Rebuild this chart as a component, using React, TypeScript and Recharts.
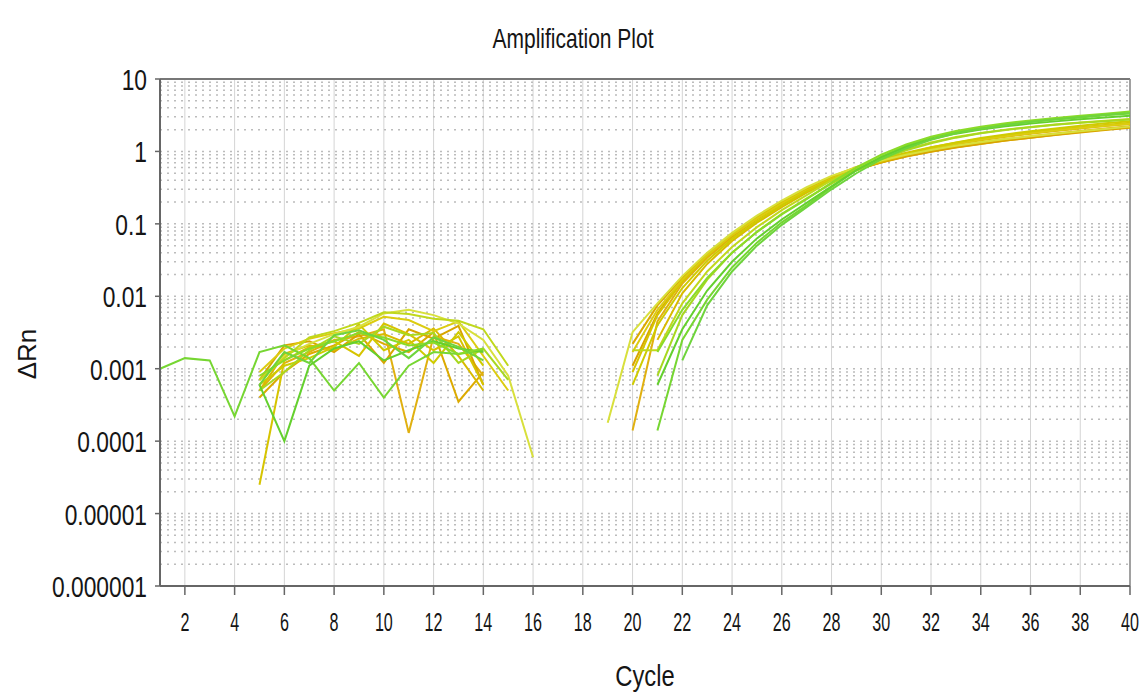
import React from 'react';
import { LineChart, Line, XAxis, YAxis, CartesianGrid, ReferenceLine } from 'recharts';

const _ = null;

// cycles 1..40
const cycles = Array.from({ length: 40 }, (_v, i) => i + 1);
const xTicks = [2, 4, 6, 8, 10, 12, 14, 16, 18, 20, 22, 24, 26, 28, 30, 32, 34, 36, 38, 40];
const yTicks = [0.000001, 0.00001, 0.0001, 0.001, 0.01, 0.1, 1, 10];
const yTickLabels = ['0.000001', '0.00001', '0.0001', '0.001', '0.01', '0.1', '1', '10'];

// ΔRn per well, one entry per cycle (null = not plotted, value <= 0)
const wellLY = [
  _, _, _, _, 0.0007, 0.0015, 0.0022, 0.003, 0.0038, 0.0058, 0.0065, 0.0055, 0.0042, 0.0025, 0.0008, 0.00006,
  _, _, 0.00018,
  0.0032, 0.008, 0.019, 0.04, 0.075, 0.13, 0.21, 0.32, 0.46, 0.6, 0.75, 0.9, 1.05, 1.2, 1.34, 1.48, 1.62, 1.76, 1.9, 2.04, 2.2,
];
const wellO1 = [
  _, _, _, _, 0.0004, 0.0009, 0.0016, 0.0021, 0.0032, 0.0022, 0.0017, 0.0032, 0.00035, 0.0009, _, _,
  _, _, _,
  0.0022, 0.0075, 0.018, 0.038, 0.072, 0.125, 0.2, 0.3, 0.43, 0.57, 0.71, 0.86, 1.0, 1.14, 1.28, 1.42, 1.55, 1.69, 1.83, 1.97, 2.12,
];
const wellO2 = [
  _, _, _, _, 0.0005, 0.0012, 0.0017, 0.0025, 0.0028, 0.0035, 0.00013, 0.0028, 0.0022, 0.0008, _, _,
  _, _, _,
  0.00014, 0.0045, 0.015, 0.034, 0.066, 0.115, 0.19, 0.29, 0.42, 0.56, 0.71, 0.87, 1.03, 1.18, 1.33, 1.48, 1.62, 1.77, 1.92, 2.07, 2.22,
];
const wellO3 = [
  _, _, _, _, 0.0007, 0.0021, 0.0024, 0.0017, 0.003, 0.0012, 0.0035, 0.0026, 0.0039, 0.0006, _, _,
  _, _, _,
  0.0011, 0.0058, 0.017, 0.037, 0.069, 0.118, 0.19, 0.29, 0.42, 0.56, 0.7, 0.85, 0.99, 1.13, 1.27, 1.41, 1.55, 1.7, 1.85, 2.0, 2.15,
];
const wellG1 = [
  _, _, _, _, 0.0005, 0.0016, 0.0021, 0.0018, 0.0026, 0.003, 0.0022, 0.0036, 0.0015, 0.0005, _, _,
  _, _, _,
  _, 0.0025, 0.011, 0.028, 0.058, 0.104, 0.17, 0.27, 0.4, 0.55, 0.72, 0.9, 1.08, 1.26, 1.43, 1.6, 1.76, 1.92, 2.08, 2.24, 2.4,
];
const wellY1 = [
  _, _, _, _, 0.000025, 0.0013, 0.002, 0.0024, 0.0015, 0.0042, 0.003, 0.0018, 0.0028, 0.0006, _, _,
  _, _, _,
  0.0009, 0.0055, 0.016, 0.036, 0.07, 0.12, 0.2, 0.31, 0.45, 0.61, 0.78, 0.96, 1.14, 1.32, 1.5, 1.67, 1.84, 2.0, 2.16, 2.32, 2.48,
];
const wellY2 = [
  _, _, _, _, 0.0009, 0.0019, 0.0026, 0.0031, 0.0036, 0.0052, 0.0047, 0.0033, 0.0045, 0.0015, 0.0005, _,
  _, _, _,
  0.0017, 0.0065, 0.017, 0.037, 0.07, 0.118, 0.19, 0.29, 0.42, 0.57, 0.74, 0.92, 1.1, 1.28, 1.45, 1.62, 1.78, 1.94, 2.1, 2.26, 2.42,
];
const wellY3 = [
  _, _, _, _, 0.0006, 0.0011, 0.0014, 0.002, 0.0041, 0.0018, 0.0025, 0.0012, 0.0032, 0.0011, _, _,
  _, _, _,
  0.0006, 0.004, 0.013, 0.031, 0.062, 0.108, 0.18, 0.28, 0.41, 0.56, 0.74, 0.93, 1.13, 1.33, 1.53, 1.72, 1.9, 2.08, 2.26, 2.44, 2.62,
];
const wellYG1 = [
  _, _, _, _, 0.0007, 0.0014, 0.0027, 0.0033, 0.0043, 0.006, 0.0057, 0.0049, 0.0046, 0.0035, 0.0011, _,
  _, _, _,
  0.0018, 0.0018, 0.008, 0.022, 0.048, 0.09, 0.155, 0.25, 0.4, 0.58, 0.8, 1.06, 1.33, 1.58, 1.8, 2.0, 2.18, 2.35, 2.5, 2.65, 2.8,
];
const wellYG2 = [
  _, _, _, _, 0.0005, 0.0009, 0.0018, 0.0028, 0.0022, 0.0038, 0.0029, 0.0031, 0.0012, 0.0019, 0.0007, _,
  _, _, _,
  _, 0.0008, 0.0055, 0.017, 0.04, 0.078, 0.138, 0.225, 0.36, 0.55, 0.78, 1.04, 1.3, 1.55, 1.78, 1.98, 2.16, 2.33, 2.48, 2.62, 2.75,
];
const wellGr1 = [
  0.001, 0.0014, 0.0013, 0.00022, 0.0017, 0.0021, 0.0014, 0.0005, 0.0012, 0.0004, 0.0011, 0.0017, 0.0016, 0.0018, _, _,
  _, _, _,
  _, 0.00014, 0.0025, 0.009, 0.025, 0.055, 0.105, 0.18, 0.32, 0.55, 0.85, 1.2, 1.55, 1.85, 2.1, 2.35, 2.55, 2.75, 2.95, 3.15, 3.35,
];
const wellGr2 = [
  _, _, _, _, 0.0006, 0.0001, 0.0011, 0.0019, 0.0024, 0.0013, 0.0018, 0.0024, 0.0019, 0.0017, _, _,
  _, _, _,
  _, 0.0006, 0.0035, 0.012, 0.03, 0.063, 0.115, 0.195, 0.33, 0.55, 0.83, 1.15, 1.48, 1.76, 2.0, 2.22, 2.42, 2.6, 2.78, 2.95, 3.1,
];
const wellGr3 = [
  _, _, _, _, 0.0008, 0.0013, 0.0019, 0.0024, 0.0031, 0.0027, 0.0021, 0.0023, 0.0016, 0.0019, _, _,
  _, _, _,
  _, 0.0017, 0.0065, 0.018, 0.04, 0.077, 0.135, 0.22, 0.37, 0.6, 0.9, 1.25, 1.6, 1.92, 2.2, 2.45, 2.68, 2.9, 3.12, 3.32, 3.55,
];
const wellGr4 = [
  _, _, _, _, 0.0006, 0.0017, 0.0012, 0.0029, 0.0034, 0.0025, 0.0014, 0.0027, 0.002, 0.0013, _, _,
  _, _, _,
  _, _, 0.0013, 0.0075, 0.022, 0.05, 0.097, 0.17, 0.3, 0.5, 0.78, 1.1, 1.45, 1.78, 2.06, 2.32, 2.56, 2.78, 3.0, 3.2, 3.4,
];

const wellNames = ['O1', 'O2', 'O3', 'G1', 'Y1', 'Y2', 'Y3', 'LY', 'YG1', 'YG2', 'Gr1', 'Gr2', 'Gr3', 'Gr4'];
const wellValues = [wellO1, wellO2, wellO3, wellG1, wellY1, wellY2, wellY3, wellLY, wellYG1, wellYG2, wellGr1, wellGr2, wellGr3, wellGr4];
const wellColors = [
  '#dcaa00', '#e0b010', '#d8a400', '#d8ba00', '#d6c400', '#dccc10', '#cfcb00',
  '#d8e03c', '#c0d81c', '#a8d820', '#76d632', '#64d02e', '#8adb28', '#6ed43c',
];

const rows = cycles.map((c, i) => {
  const row: Record<string, number | null> = { cycle: c };
  wellNames.forEach((n, w) => {
    row[n] = wellValues[w][i];
  });
  return row;
});

// log grid: 1..9 x each decade
const gridValues: number[] = [];
for (let e = -6; e <= 0; e++) {
  for (let k = 1; k <= 9; k++) gridValues.push(Number((k * Math.pow(10, e)).toPrecision(3)));
}

const FONT = '"Liberation Sans", Arial, sans-serif';

const YTick = (props: any) => {
  const { x, y, payload } = props;
  const i = yTicks.indexOf(payload.value);
  return (
    <g transform={`translate(${x},${y})`}>
      <text transform="scale(0.76,1)" textAnchor="end" dy={11} fontSize={30} fill="#151515" fontFamily={FONT}>
        {i >= 0 ? yTickLabels[i] : String(payload.value)}
      </text>
    </g>
  );
};

const XTick = (props: any) => {
  const { x, y, payload } = props;
  return (
    <g transform={`translate(${x},${y})`}>
      <text transform="scale(0.62,1)" textAnchor="middle" dy={34} fontSize={26} fill="#151515" fontFamily={FONT}>
        {payload.value}
      </text>
    </g>
  );
};

export default function App() {
  return (
    <div style={{ position: 'absolute', left: 0, top: 0, width: 1146, height: 697, background: '#fff' }}>
      <LineChart width={1146} height={697} data={rows} margin={{ top: 79, right: 16, bottom: 6, left: 0 }}>
        <CartesianGrid horizontal={false} verticalValues={xTicks} stroke="#d4d4d4" strokeWidth={1} />
        {gridValues.map((v) => (
          <ReferenceLine key={`g${v}`} y={v} stroke="#bcbcbc" strokeWidth={1.5} strokeDasharray="2 5" />
        ))}
        <XAxis
          dataKey="cycle"
          type="number"
          domain={[1, 40]}
          ticks={xTicks}
          height={105}
          tickSize={9}
          tick={<XTick />}
          axisLine={{ stroke: '#666', strokeWidth: 2 }}
          tickLine={{ stroke: '#666', strokeWidth: 1.5 }}
        />
        <YAxis
          type="number"
          scale="log"
          domain={[0.000001, 10]}
          ticks={yTicks}
          allowDataOverflow
          width={160}
          tickSize={5}
          tickMargin={8}
          tick={<YTick />}
          axisLine={{ stroke: '#666', strokeWidth: 2 }}
          tickLine={{ stroke: '#666', strokeWidth: 1.5 }}
        />
        <ReferenceLine y={10} stroke="#777" strokeWidth={2} />
        <ReferenceLine x={40} stroke="#888" strokeWidth={1.5} />
        {wellNames.map((n, w) => (
          <Line
            key={n}
            dataKey={n}
            type="linear"
            stroke={wellColors[w]}
            strokeWidth={2}
            dot={false}
            connectNulls={false}
            isAnimationActive={false}
          />
        ))}
      </LineChart>
      <svg width={1146} height={697} style={{ position: 'absolute', left: 0, top: 0, pointerEvents: 'none' }}>
        <text x={573 / 0.75} y={48} transform="scale(0.75,1)" textAnchor="middle" fontSize={28} fill="#151515" fontFamily={FONT}>
          Amplification Plot
        </text>
        <text x={645 / 0.82} y={686} transform="scale(0.82,1)" textAnchor="middle" fontSize={29} fill="#151515" fontFamily={FONT}>
          Cycle
        </text>
        <text
          x={0}
          y={0}
          transform="translate(36,354) rotate(-90)"
          textAnchor="middle"
          fontSize={26}
          fill="#151515"
          fontFamily={FONT}
        >
          ΔRn
        </text>
      </svg>
    </div>
  );
}
